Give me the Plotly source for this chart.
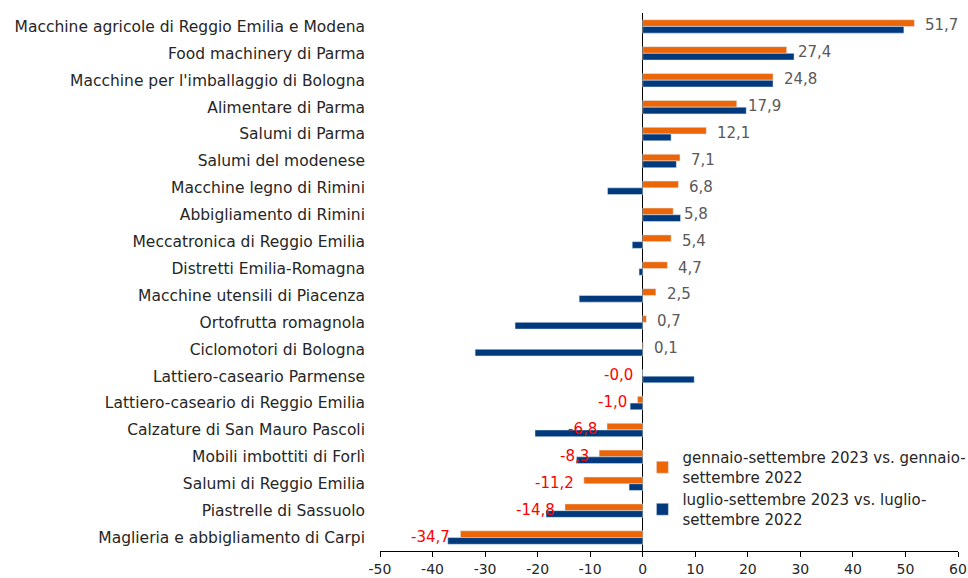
import plotly.graph_objects as go

categories = [
    "Macchine agricole di Reggio Emilia e Modena",
    "Food machinery di Parma",
    "Macchine per l'imballaggio di Bologna",
    "Alimentare di Parma",
    "Salumi di Parma",
    "Salumi del modenese",
    "Macchine legno di Rimini",
    "Abbigliamento di Rimini",
    "Meccatronica di Reggio Emilia",
    "Distretti Emilia-Romagna",
    "Macchine utensili di Piacenza",
    "Ortofrutta romagnola",
    "Ciclomotori di Bologna",
    "Lattiero-caseario Parmense",
    "Lattiero-caseario di Reggio Emilia",
    "Calzature di San Mauro Pascoli",
    "Mobili imbottiti di Forlì",
    "Salumi di Reggio Emilia",
    "Piastrelle di Sassuolo",
    "Maglieria e abbigliamento di Carpi",
]
gen_set = [51.7, 27.4, 24.8, 17.9, 12.1, 7.1, 6.8, 5.8, 5.4, 4.7, 2.5, 0.7, 0.1,
           -0.001, -1.0, -6.8, -8.3, -11.2, -14.8, -34.7]
gen_set_labels = ["51,7", "27,4", "24,8", "17,9", "12,1", "7,1", "6,8", "5,8", "5,4",
                  "4,7", "2,5", "0,7", "0,1", "-0,0", "-1,0", "-6,8", "-8,3",
                  "-11,2", "-14,8", "-34,7"]
lug_set = [49.7, 28.8, 24.8, 19.7, 5.4, 6.4, -6.7, 7.2, -2.0, -0.7, -12.1, -24.3,
           -31.9, 9.8, -2.4, -20.5, -12.6, -2.6, -18.4, -37.1]
x_ticks = [-50, -40, -30, -20, -10, 0, 10, 20, 30, 40, 50, 60]

ORANGE = "#EC6608"
NAVY = "#003A7C"
FONT = "DejaVu Sans"

fig = go.Figure()
fig.add_trace(go.Bar(
    y=categories, x=gen_set, orientation="h",
    name="gennaio-settembre 2023 vs. gennaio-<br>settembre 2022",
    marker=dict(color=ORANGE),
    hoverinfo="skip",
))
fig.add_trace(go.Bar(
    y=categories, x=lug_set, orientation="h",
    name="luglio-settembre 2023 vs. luglio-<br>settembre 2022",
    marker=dict(color=NAVY),
    hoverinfo="skip",
))

for cat, v, lab in zip(categories, gen_set, gen_set_labels):
    neg = lab.startswith("-")
    fig.add_annotation(
        x=v, y=cat, text=lab, showarrow=False,
        xanchor="right" if neg else "left",
        xshift=-8 if neg else 9,
        yshift=1,
        font=dict(family=FONT, size=15, color="#FF0000" if neg else "#595959"),
    )

fig.update_layout(
    width=968, height=578,
    margin=dict(l=380, r=10, t=13, b=27, autoexpand=False),
    paper_bgcolor="white", plot_bgcolor="white",
    barmode="group", bargap=0.5, bargroupgap=0,
    font=dict(family=FONT, size=15, color="#262626"),
    showlegend=True,
    legend=dict(
        x=0.454, y=0.204, xanchor="left", yanchor="top",
        font=dict(family=FONT, size=15, color="#262626"),
        bgcolor="rgba(0,0,0,0)", itemwidth=30, tracegroupgap=15,
    ),
)
fig.update_xaxes(
    range=[-50, 60], tickvals=x_ticks, ticktext=[str(t) for t in x_ticks],
    showgrid=False, zeroline=True, zerolinecolor="black", zerolinewidth=1,
    showline=True, linecolor="black", linewidth=1,
    ticks="outside", ticklen=5, tickcolor="black",
    tickfont=dict(family=FONT, size=14, color="#262626"),
)
fig.update_yaxes(
    autorange="reversed", showgrid=False, showline=False, ticks="",
    ticklabelstandoff=14,
    tickfont=dict(family=FONT, size=15.5, color="#262626"),
)

# remove the default page margin so the 968x578 figure fills the window exactly
fig.write_html(
    "out.html",
    config={"displayModeBar": False},
    post_script="document.body.style.margin='0';",
)
